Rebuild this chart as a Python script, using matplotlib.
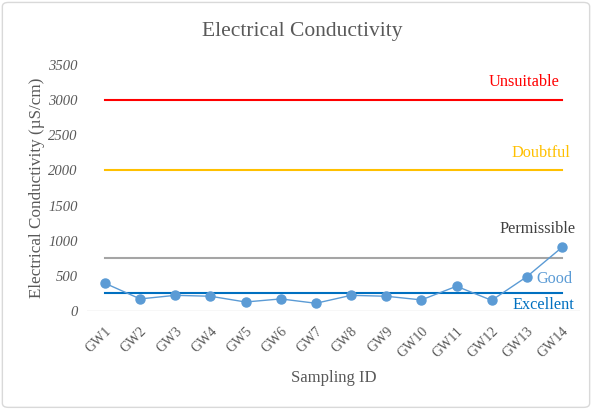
import matplotlib.pyplot as plt
from matplotlib.patches import FancyBboxPatch

plt.rcParams['font.family'] = ['Liberation Serif', 'DejaVu Serif']

# Sample sites and measured EC values (uS/cm)
sites = ["GW1", "GW2", "GW3", "GW4", "GW5", "GW6", "GW7",
         "GW8", "GW9", "GW10", "GW11", "GW12", "GW13", "GW14"]
ec_values = [395, 172, 223, 210, 128, 172, 110, 223, 210, 158, 352, 152, 488, 906]

# Water quality class limits
class_names = ["Unsuitable", "Doubtful", "Permissible", "Good", "Excellent"]
class_limits = [3000, 2000, 750, None, 250]
class_colors = ["#FF0000", "#FFC000", "#A5A5A5", "#5B9BD5", "#0070C0"]

yticks = [0, 500, 1000, 1500, 2000, 2500, 3000, 3500]

fig = plt.figure(figsize=(5.92, 4.09), dpi=100)
border = FancyBboxPatch((0.004, 0.004), 0.992, 0.99, boxstyle="round,pad=0,rounding_size=0.01",
                        transform=fig.transFigure, facecolor="none", edgecolor="#D9D9D9", lw=1)
fig.patches.append(border)

ax = fig.add_axes([0.1476, 0.2396, 0.8314, 0.6014])
x = list(range(len(sites)))

for name, lim, col in zip(class_names, class_limits, class_colors):
    if lim is not None:
        ax.plot([x[0], x[-1]], [lim, lim], color=col, lw=1.5, zorder=2)

ax.plot(x, ec_values, color="#5B9BD5", lw=1, marker="o", ms=6.5, zorder=3)
ax.axhline(0, color="#D9D9D9", lw=1, zorder=1)

ax.set_xlim(-0.5, len(sites) - 0.5)
ax.set_ylim(0, 3500)
ax.set_yticks(yticks)
ax.set_yticklabels([str(v) for v in yticks], fontstyle="italic", fontsize=10.5, color="#595959")
ax.set_xticks(x)
ax.set_xticklabels(sites, rotation=45, ha="right", rotation_mode="anchor",
                   fontsize=10, color="#595959")
ax.tick_params(axis="y", length=0, pad=7)
ax.tick_params(axis="x", length=0, pad=10)
for s in ax.spines.values():
    s.set_visible(False)

ax.set_xlabel("Sampling ID", fontsize=12, color="#595959", labelpad=7)
ax.set_ylabel("Electrical Conductivity (\u00b5S/cm)", fontsize=12.3, color="#595959", labelpad=2)
fig.text(0.51, 0.922, "Electrical Conductivity", ha="center", va="center",
         fontsize=15.5, color="#595959")

# Class labels at the right end of the plot
ax.text(12.93, 3000 + 140, "Unsuitable", color="#FF0000", fontsize=11.7, ha="right", va="bottom")
ax.text(13.25, 2000 + 140, "Doubtful", color="#FFC000", fontsize=11.7, ha="right", va="bottom")
ax.text(13.38, 750 + 305, "Permissible", color="#404040", fontsize=11.7, ha="right", va="bottom")
ax.text(13.3, 460, "Good", color="#5B9BD5", fontsize=11.7, ha="right", va="center")
ax.text(13.35, 90, "Excellent", color="#0070C0", fontsize=11.7, ha="right", va="center")

fig.savefig("out.png", dpi=100)
